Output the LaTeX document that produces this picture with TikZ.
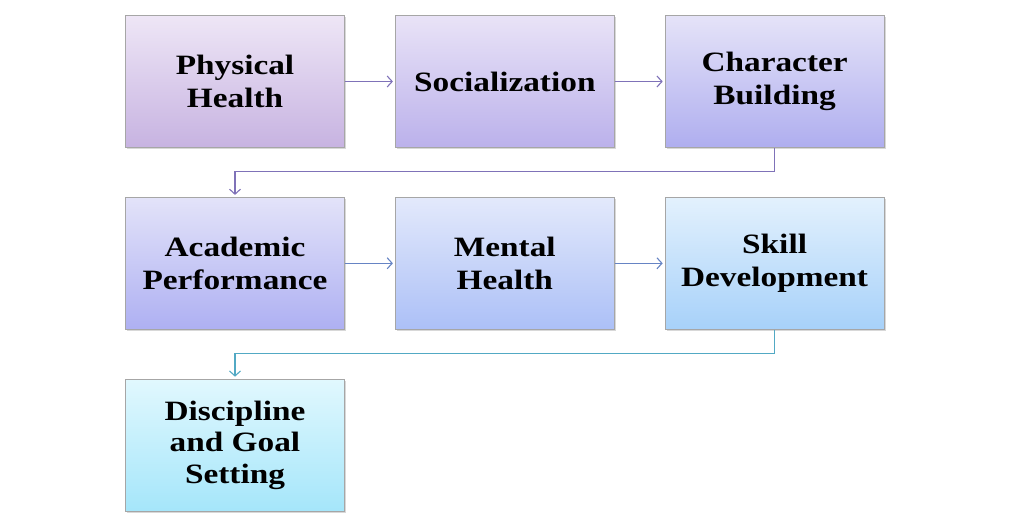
\documentclass[tikz,border=0pt]{standalone}
\usepackage{fontspec}
\setmainfont[FakeStretch=1.19]{Liberation Serif}
\usepackage{xcolor}
\usetikzlibrary{arrows.meta, positioning, shadows}

\definecolor{arrPurple}{HTML}{7F72B8}
\definecolor{arrBlue}{HTML}{6684C4}
\definecolor{arrTeal}{HTML}{52A9C4}
\definecolor{physTop}{HTML}{EEE6F6}  \definecolor{physBot}{HTML}{C7B3E1}
\definecolor{socTop}{HTML}{E9E3F7}   \definecolor{socBot}{HTML}{BBB1EB}
\definecolor{charTop}{HTML}{E5E3F8}  \definecolor{charBot}{HTML}{AFAEEF}
\definecolor{acadTop}{HTML}{E3E3F9}  \definecolor{acadBot}{HTML}{AEB0F2}
\definecolor{mentTop}{HTML}{E3E9FB}  \definecolor{mentBot}{HTML}{ACC0F7}
\definecolor{skillTop}{HTML}{E3F1FD} \definecolor{skillBot}{HTML}{A7D1F9}
\definecolor{discTop}{HTML}{E1F8FE}  \definecolor{discBot}{HTML}{A5E6FA}

\begin{document}
\begin{tikzpicture}[x=1pt, y=-1pt, >={Straight Barb[length=5pt, width=11pt]},
    font=\fontsize{28}{33.5}\selectfont\bfseries,
    box/.style={draw=black!35, line width=0.8pt, top color=#1Top, bottom color=#1Bot,
      align=center, minimum width=219pt, minimum height=132pt, inner sep=2pt,
      drop shadow={shadow xshift=1.5pt, shadow yshift=-1.5pt, fill=black!30}},
    link/.style={->, line width=1.1pt, shorten >=2pt}]
    \useasboundingbox (0,0) rectangle (1010,522);
    \node[box=phys] (phys) at (235,81.5) {Physical\\Health};
    \node[box=soc, right=50pt of phys] (soc) {Socialization};
    \node[box=char, right=50pt of soc] (char) {Character\\Building};
    \node[box=acad, below=49pt of phys] (acad) {Academic\\Performance};
    \node[box=ment, right=50pt of acad] (ment) {Mental\\Health};
    \node[box=skill, right=50pt of ment] (skill) {Skill\\Development};
    \node[box=disc, below=49pt of acad, font=\fontsize{28}{31.5}\selectfont\bfseries] (disc) {Discipline\\and Goal\\Setting};
    \draw[link, arrPurple] (phys) -- (soc);
    \draw[link, arrPurple] (soc) -- (char);
    \draw[link, arrPurple] (char.south) -- ++(0,24) -| (acad.north);
    \draw[link, arrBlue] (acad) -- (ment);
    \draw[link, arrBlue] (ment) -- (skill);
    \draw[link, arrTeal] (skill.south) -- ++(0,24) -| (disc.north);
  \end{tikzpicture}
\end{document}
